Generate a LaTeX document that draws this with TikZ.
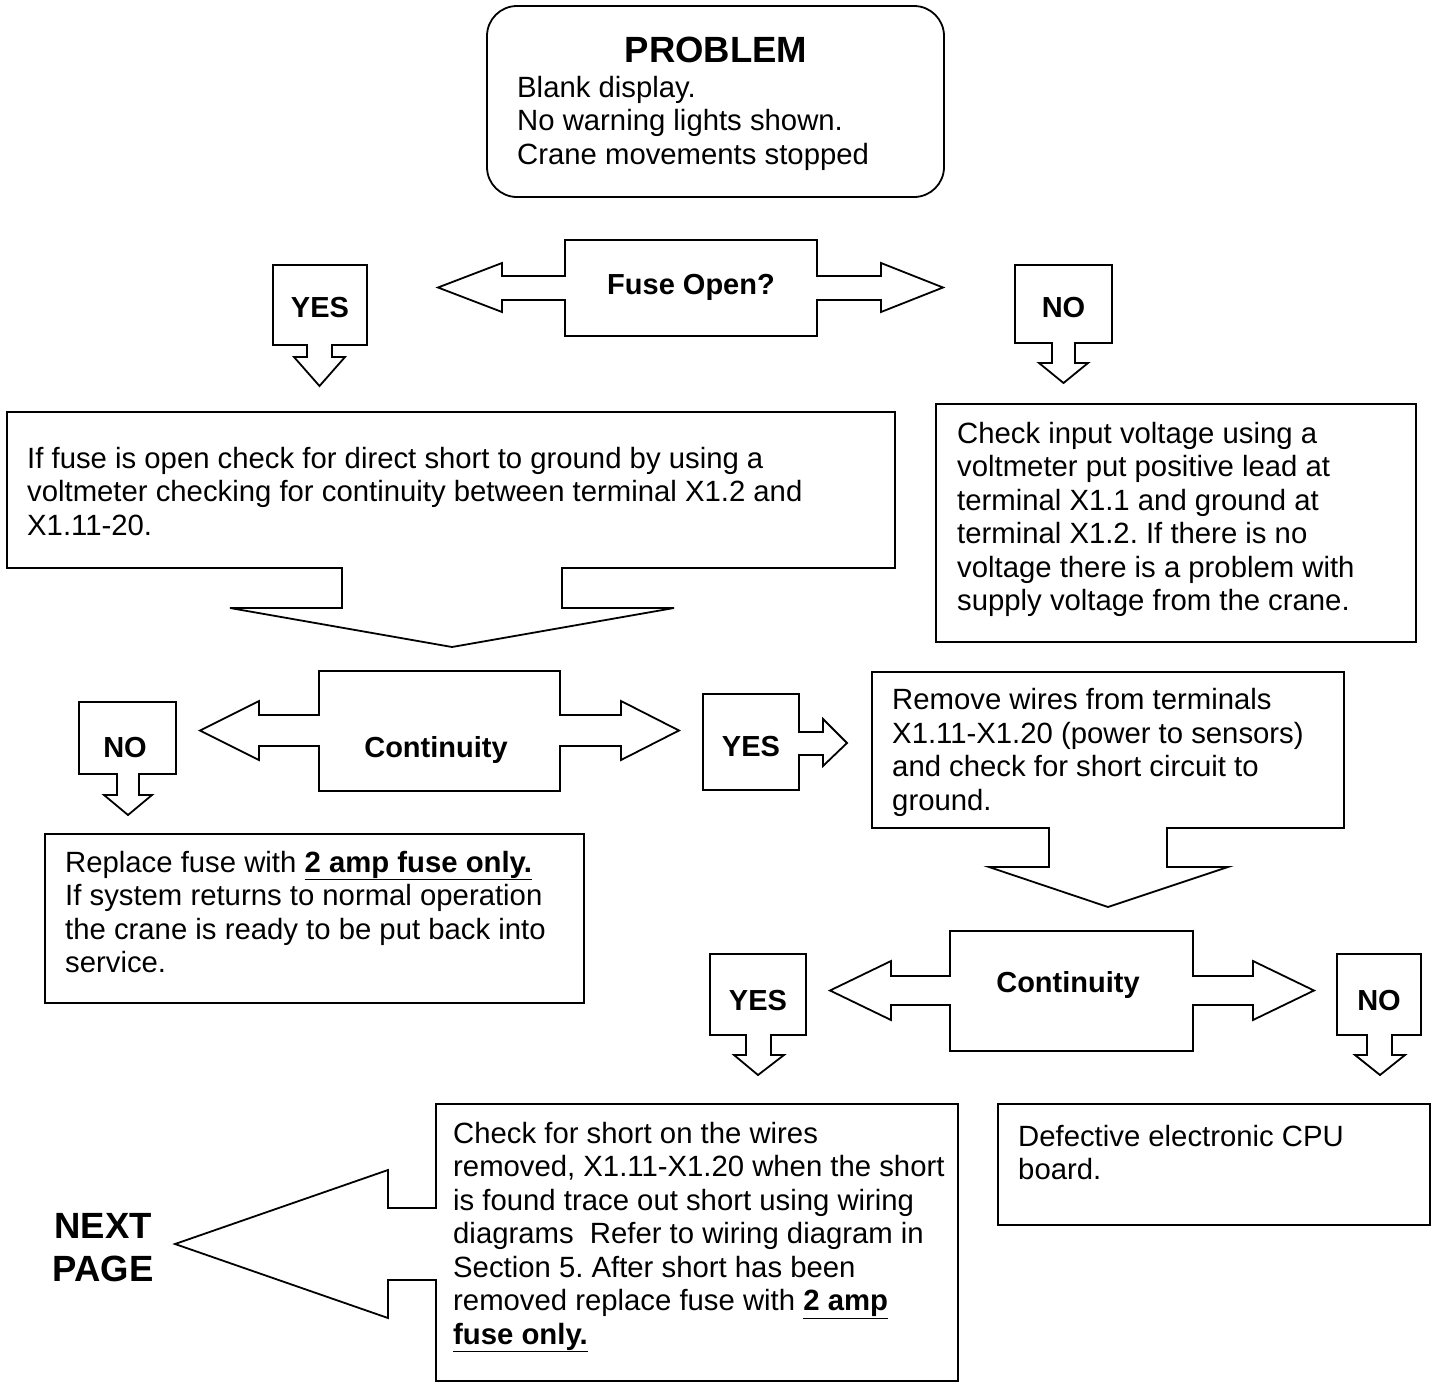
\documentclass[tikz,border=0pt]{standalone}
\usepackage{fontspec}
\setmainfont{Liberation Sans}
\frenchspacing
\newcommand\bodyfnt{\fontsize{29.3}{33.5}\selectfont}
\newcommand\labfnt{\fontsize{29}{33}\selectfont\bfseries}
\newcommand\bigfnt{\fontsize{36.5}{43}\selectfont\bfseries}
\tikzset{
  shp/.style={draw=black, line width=1.8pt, line join=miter, fill=white},
  body/.style={inner sep=0pt, anchor=north west, align=left, font=\bodyfnt},
  lab/.style={inner sep=0pt, anchor=base, font=\labfnt},
}
\begin{document}
\begin{tikzpicture}[x=1pt,y=-1pt]
\useasboundingbox (0,0) rectangle (1437,1384);

% PROBLEM box
\draw[shp, rounded corners=30pt] (487,6) rectangle (944,197);
\node[inner sep=0pt, anchor=base, font=\bigfnt] (prob) at (716,62) {PROBLEM};
\node[body] (probtxt) at (517,73.5) {\strut Blank display.\\No warning lights shown.\\Crane movements stopped};

% Fuse Open? double arrow callout
\draw[shp] (565,240) -- (817,240) -- (817,276) -- (881,276) -- (881,263) -- (943,287.5) -- (881,312) -- (881,300) -- (817,300) -- (817,336) -- (565,336) -- (565,300) -- (502,300) -- (502,312) -- (438,287.5) -- (502,263) -- (502,276) -- (565,276) -- cycle;
\node[lab] (fuse) at (691,294) {Fuse Open?};

% YES (down)
\draw[shp] (273,265) -- (367,265) -- (367,345) -- (332,345) -- (332,357) -- (345,357) -- (319.5,386) -- (294,357) -- (307,357) -- (307,345) -- (273,345) -- cycle;
\node[lab] (yes1) at (320,317) {YES};

% NO (down)
\draw[shp] (1015,265) -- (1112,265) -- (1112,343) -- (1075,343) -- (1075,363) -- (1088,363) -- (1063.5,383) -- (1039,363) -- (1052,363) -- (1052,343) -- (1015,343) -- cycle;
\node[lab] (no1) at (1063.5,317) {NO};

% Box 1 with down arrow
\draw[shp] (7,412) -- (895,412) -- (895,568) -- (562,568) -- (562,608) -- (674,608) -- (452,647) -- (230,608) -- (342,608) -- (342,568) -- (7,568) -- cycle;
\node[body] (shorttxt) at (27,444.5) {\strut If fuse is open check for direct short to ground by using a\\voltmeter checking for continuity between terminal X1.2 and\\X1.11-20.};

% Right box
\draw[shp] (936,404) rectangle (1416,642);
\node[body] (volttxt) at (957,419.5) {\strut Check input voltage using a\\voltmeter put positive lead at\\terminal X1.1 and ground at\\terminal X1.2. If there is no\\voltage there is a problem with\\supply voltage from the crane.};

% Continuity 1 double arrow
\draw[shp] (319,671) -- (560,671) -- (560,715) -- (621,715) -- (621,701) -- (679,730.5) -- (621,760) -- (621,746) -- (560,746) -- (560,791) -- (319,791) -- (319,746) -- (259,746) -- (259,760) -- (200,730.5) -- (259,701) -- (259,715) -- (319,715) -- cycle;
\node[lab] (cont1) at (436,757) {Continuity};

% NO 2 (down)
\draw[shp] (79,702) -- (176,702) -- (176,774) -- (139,774) -- (139,795) -- (152,795) -- (128,815) -- (104,795) -- (117,795) -- (117,774) -- (79,774) -- cycle;
\node[lab] (no2) at (125,757) {NO};

% YES 2 (right)
\draw[shp] (703,694) -- (799,694) -- (799,732) -- (823,732) -- (823,719) -- (847,743) -- (823,766) -- (823,755) -- (799,755) -- (799,790) -- (703,790) -- cycle;
\node[lab] (yes2) at (751,756) {YES};

% Replace box
\draw[shp] (45,834) rectangle (584,1003);
\node[body] (repltxt) at (65,848.5) {\strut Replace fuse with \textbf{\underline{2 amp fuse only.}}\\If system returns to normal operation\\the crane is ready to be put back into\\service.};

% Remove wires box with down arrow
\draw[shp] (872,672) -- (1344,672) -- (1344,828) -- (1167,828) -- (1167,867) -- (1228,867) -- (1108,907) -- (989,867) -- (1049,867) -- (1049,828) -- (872,828) -- cycle;
\node[body] (remtxt) at (892,686) {\strut Remove wires from terminals\\X1.11-X1.20 (power to sensors)\\and check for short circuit to\\ground.};

% Continuity 2 double arrow
\draw[shp] (950,931) -- (1193,931) -- (1193,976) -- (1253,976) -- (1253,961) -- (1314,990.5) -- (1253,1020) -- (1253,1005) -- (1193,1005) -- (1193,1051) -- (950,1051) -- (950,1005) -- (891,1005) -- (891,1020) -- (830,990.5) -- (891,961) -- (891,976) -- (950,976) -- cycle;
\node[lab] (cont2) at (1068,992) {Continuity};

% YES 3 (down)
\draw[shp] (710,954) -- (806,954) -- (806,1035) -- (771,1035) -- (771,1055) -- (784,1055) -- (758,1075) -- (734,1055) -- (746,1055) -- (746,1035) -- (710,1035) -- cycle;
\node[lab] (yes3) at (758,1010) {YES};

% NO 3 (down)
\draw[shp] (1337,954) -- (1421,954) -- (1421,1035) -- (1392,1035) -- (1392,1055) -- (1405,1055) -- (1380,1075) -- (1355,1055) -- (1367,1055) -- (1367,1035) -- (1337,1035) -- cycle;
\node[lab] (no3) at (1379,1010) {NO};

% Check for short box with left arrow
\draw[shp] (436,1104) -- (958,1104) -- (958,1381) -- (436,1381) -- (436,1280) -- (388,1280) -- (388,1318) -- (175,1244) -- (388,1170) -- (388,1208) -- (436,1208) -- cycle;
\node[body] (checktxt) at (453,1119.5) {\strut Check for short on the wires\\removed, X1.11-X1.20 when the short\\is found trace out short using wiring\\diagrams\ \ Refer to wiring diagram in\\Section 5. After short has been\\removed replace fuse with \textbf{\underline{2 amp}}\\\textbf{\underline{fuse only.}}};

% CPU box
\draw[shp] (998,1104) rectangle (1430,1225);
\node[body] (cputxt) at (1018,1122.5) {\strut Defective electronic CPU\\board.};

% NEXT PAGE
\node[inner sep=0pt, anchor=north, align=center, font=\bigfnt] (next) at (103,1208) {\strut NEXT\\PAGE};
\end{tikzpicture}
\end{document}
